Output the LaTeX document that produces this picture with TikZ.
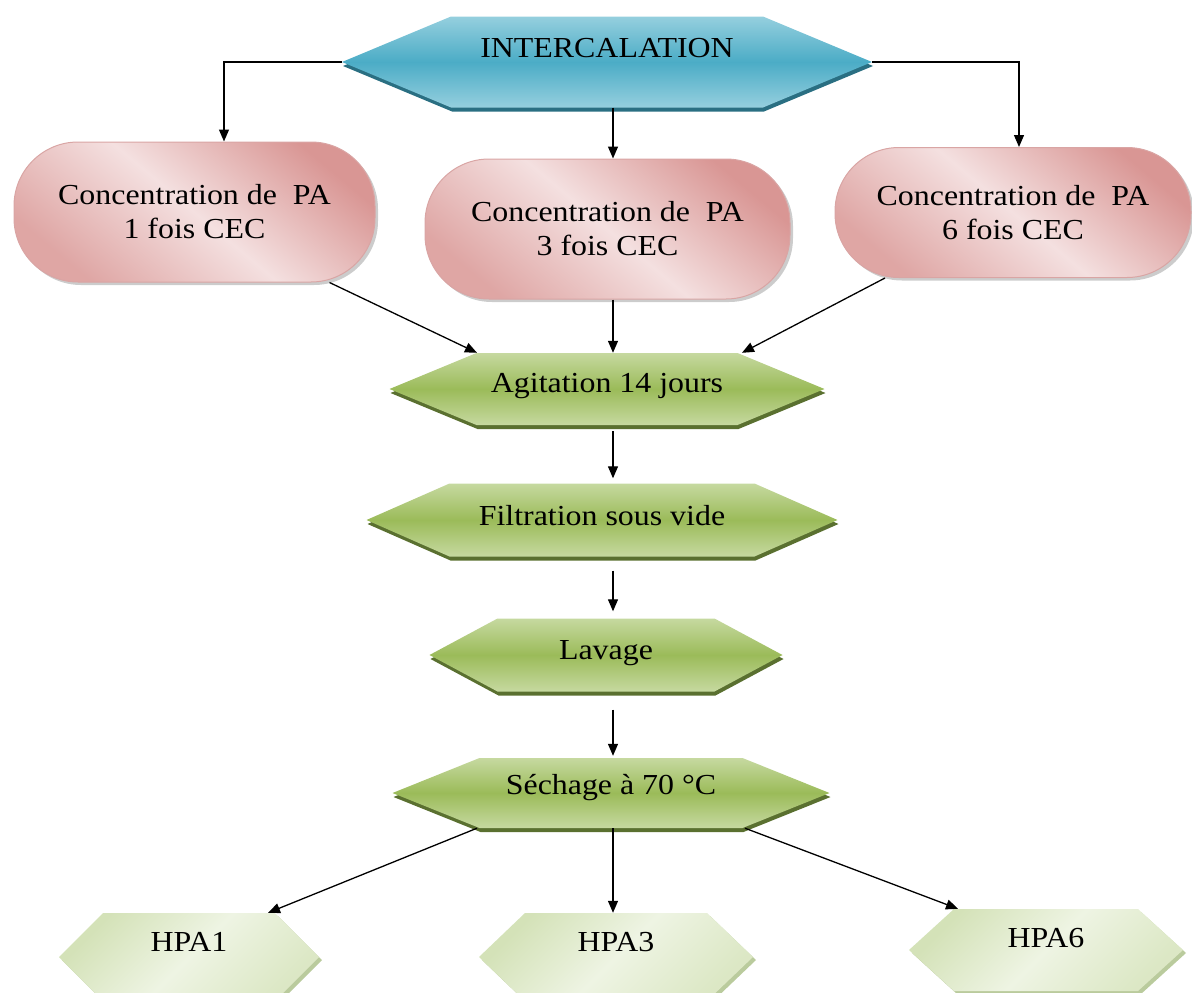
\documentclass[tikz,border=0pt]{standalone}
\usepackage{fontspec}
\setmainfont{Liberation Serif}[FakeStretch=1.1]
\usetikzlibrary{arrows.meta,shadows}
\definecolor{bluemid}{HTML}{4BACC6}
\definecolor{blueedge}{HTML}{95CFDE}
\definecolor{blueshadow}{HTML}{2A6F82}
\definecolor{greenmid}{HTML}{9BBB59}
\definecolor{greenedge}{HTML}{C6D9A0}
\definecolor{greenshadow}{HTML}{5A7030}
\definecolor{pinkdark}{HTML}{D99694}
\definecolor{pinklight}{HTML}{F4E0E0}
\definecolor{pinkline}{HTML}{D9A5A4}
\definecolor{lgdark}{HTML}{D4E2B8}
\definecolor{lglight}{HTML}{EEF4E3}
\definecolor{lgshadow}{HTML}{A9BE84}
% name, cx, cy, w, h, ext, style, raise, text
\newcommand\hexnode[9]{%
  \path[#7] ({#2-#4/2},#3) -- ({#2-#4/2+#6},{#3-#5/2}) -- ({#2+#4/2-#6},{#3-#5/2})
    -- ({#2+#4/2},#3) -- ({#2+#4/2-#6},{#3+#5/2}) -- ({#2-#4/2+#6},{#3+#5/2}) -- cycle;
  \node[inner sep=0pt, minimum width=#4pt, minimum height=#5pt] (#1) at (#2,#3)
    {\raisebox{#8pt}[\height][\depth]{#9}};%
}
\begin{document}
\begin{tikzpicture}[x=1pt,y=-1pt,
  font=\fontsize{29}{34}\selectfont,
  conn/.style={line width=1.3pt, -{Triangle[length=12pt,width=10pt]}},
  bluehex/.style={top color=blueedge, bottom color=blueedge, middle color=bluemid,
    drop shadow={shadow xshift=1pt, shadow yshift=-4pt, fill=blueshadow, opacity=1}},
  greenhex/.style={top color=greenedge, bottom color=greenedge, middle color=greenmid,
    drop shadow={shadow xshift=1pt, shadow yshift=-4pt, fill=greenshadow, opacity=1}},
  lghex/.style={top color=lgdark, bottom color=lgdark!70!lglight, middle color=lglight,
    shading angle=45,
    drop shadow={shadow xshift=3pt, shadow yshift=-3pt, fill=lgshadow, opacity=0.8}},
  pinkbox/.style={rounded corners=64pt, align=center, draw=pinkline, line width=1pt,
    top color=pinkdark, bottom color=pinkdark!85!white, middle color=pinklight,
    shading angle=-40, inner sep=0pt,
    drop shadow={shadow xshift=3pt, shadow yshift=-3pt, fill=black!40, opacity=0.5}}]
\useasboundingbox (0,0) rectangle (1192,993);
\clip (0,0) rectangle (1192,993);

\coordinate (col) at (613,0);

\hexnode{inter}{607}{62}{530}{91}{109}{bluehex}{14}{INTERCALATION}

\node[pinkbox, minimum width=361pt, minimum height=140pt] (c1) at (194.5,212)
  {Concentration de\ \ PA\\1 fois CEC};
\node[pinkbox, minimum width=365pt, minimum height=140pt] (c2) at (607.5,229)
  {Concentration de\ \ PA\\3 fois CEC};
\node[pinkbox, minimum width=356pt, minimum height=130pt] (c3) at (1013,212.5)
  {Concentration de\ \ PA\\6 fois CEC};

\hexnode{ag}{607}{389}{435}{72}{87}{greenhex}{3}{Agitation 14 jours}
\hexnode{fil}{602}{520}{471}{73}{83}{greenhex}{4}{Filtration sous vide}
\hexnode{lav}{606}{655}{353}{73}{68}{greenhex}{2}{Lavage}
\hexnode{sech}{611}{793}{437}{70}{87}{greenhex}{5}{Séchage à 70 °C}

\hexnode{h1}{189}{957}{260}{88}{44}{lghex}{15}{HPA1}
\hexnode{h3}{616}{957}{274}{88}{46}{lghex}{15}{HPA3}
\hexnode{h6}{1046}{950}{274}{82}{45}{lghex}{12}{HPA6}

\draw[conn] (inter.west) -| ([xshift=29.5pt]c1.north);
\draw[conn] (inter.south -| col) -- (c2.north -| col);
\draw[conn] (inter.east) -| ([xshift=6pt]c3.north);

\draw[conn] ([xshift=135pt]c1.south) -- ([xshift=-130pt]ag.north);
\draw[conn] (c2.south -| col) -- (ag.north -| col);
\draw[conn] ([xshift=-128pt]c3.south) -- ([xshift=135pt]ag.north);

\draw[conn, shorten <=6pt, shorten >=5pt] (ag.south -| col) -- (fil.north -| col);
\draw[conn, shorten <=14pt, shorten >=7pt] (fil.south -| col) -- (lav.north -| col);
\draw[conn, shorten <=18pt, shorten >=2pt] (lav.south -| col) -- (sech.north -| col);

\draw[conn] ([xshift=-134pt]sech.south) -- ([xshift=79pt]h1.north);
\draw[conn] (sech.south -| col) -- (h3.north -| col);
\draw[conn] ([xshift=134pt]sech.south) -- ([xshift=-88pt]h6.north);
\end{tikzpicture}
\end{document}
